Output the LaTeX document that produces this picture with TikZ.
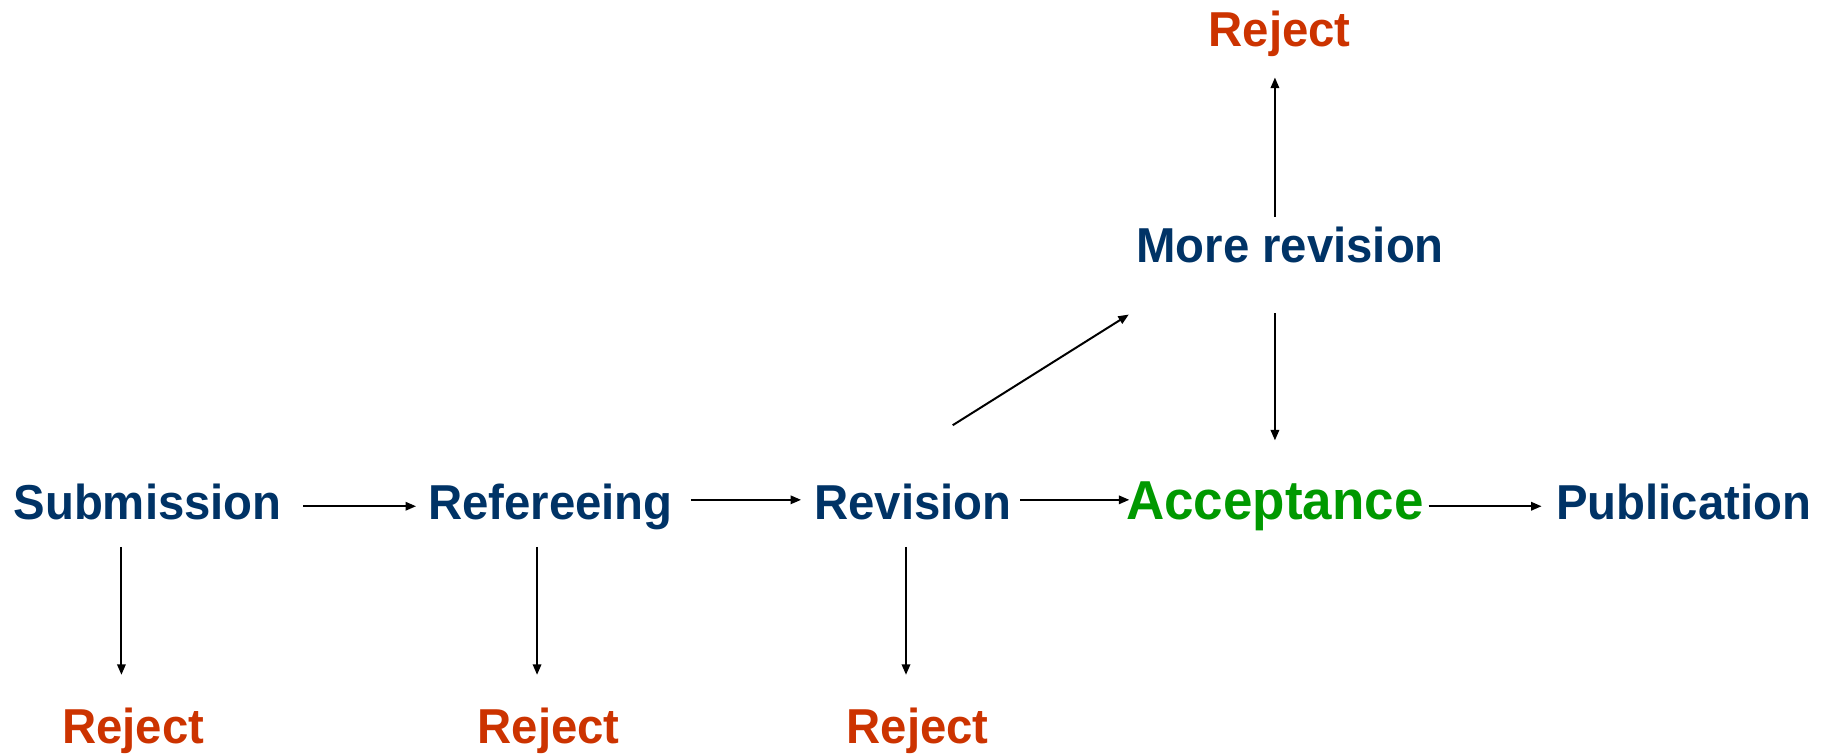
\documentclass[tikz,border=0pt]{standalone}
\usepackage{fontspec}
\setmainfont{Liberation Sans}[FakeStretch=0.965]
\usetikzlibrary{arrows.meta}
\definecolor{navy}{HTML}{003366}
\definecolor{rejred}{HTML}{CC3300}
\definecolor{accgreen}{HTML}{009900}
\tikzset{
  lbl/.style={anchor=base, inner sep=0pt, text height=15pt, text depth=4pt, font=\fontsize{21}{25}\selectfont\bfseries},
  stage/.style={lbl, text=navy},
  rej/.style={lbl, text=rejred},
  acc/.style={lbl, text=accgreen, font=\fontsize{23.5}{28}\selectfont\bfseries},
  arr/.style={-{Triangle[length=4.5pt,width=3.6pt]}, line width=0.85pt, black}
}
\begin{document}
\begin{tikzpicture}[x=0.5pt,y=-0.5pt]
\useasboundingbox (0,0) rectangle (1564,645);
\node[stage] (sub) at (126.5,444.6) {Submission};
\node[stage] (ref) at (471.5,444.6) {Refereeing};
\node[stage] (rev) at (782,444.6) {Revision};
\node[acc] (acc) at (1092,444.6) {Acceptance};
\node[stage] (pub) at (1442,444.6) {Publication};
\node[stage] (mr) at (1105,225) {More revision};
\node[rej] (rej0) at (1096,40) {Reject};
\node[rej] (rej1) at (114,636.4) {Reject};
\node[rej] (rej2) at (470,636.4) {Reject};
\node[rej] (rej3) at (786,636.4) {Reject};
% horizontal flow
\draw[arr] ([xshift=9pt]sub.east) -- ([xshift=-5pt]ref.west);
\draw[arr] ([xshift=7.5pt,yshift=2.75pt]ref.east) -- ([xshift=-5.5pt,yshift=2.75pt]rev.west);
\draw[arr] ([xshift=3.5pt,yshift=2.75pt]rev.east) -- ([xshift=1.5pt,yshift=2.75pt]acc.west);
\draw[arr] ([xshift=2pt]acc.east) -- ([xshift=-6pt]pub.west);
% rejects below
\draw[arr] ([xshift=-11.25pt,yshift=-7.7pt]sub.south) -- ([xshift=-5pt,yshift=14pt]rej1.north);
\draw[arr] ([xshift=-5.75pt,yshift=-7.7pt]ref.south) -- ([xshift=-5pt,yshift=14pt]rej2.north);
\draw[arr] ([xshift=-3pt,yshift=-7.7pt]rev.south) -- ([xshift=-5pt,yshift=14pt]rej3.north);
% more revision
\draw[arr] ([xshift=17pt,yshift=25pt]rev.north) -- ([xshift=-3pt,yshift=-18pt]mr.south west);
\draw[arr] ([xshift=-6.5pt,yshift=4.5pt]mr.north) -- ([xshift=-2pt,yshift=-9pt]rej0.south);
\draw[arr] ([xshift=-6.5pt,yshift=-17.5pt]mr.south) -- ([xshift=0pt,yshift=18.5pt]acc.north);
\end{tikzpicture}
\end{document}
